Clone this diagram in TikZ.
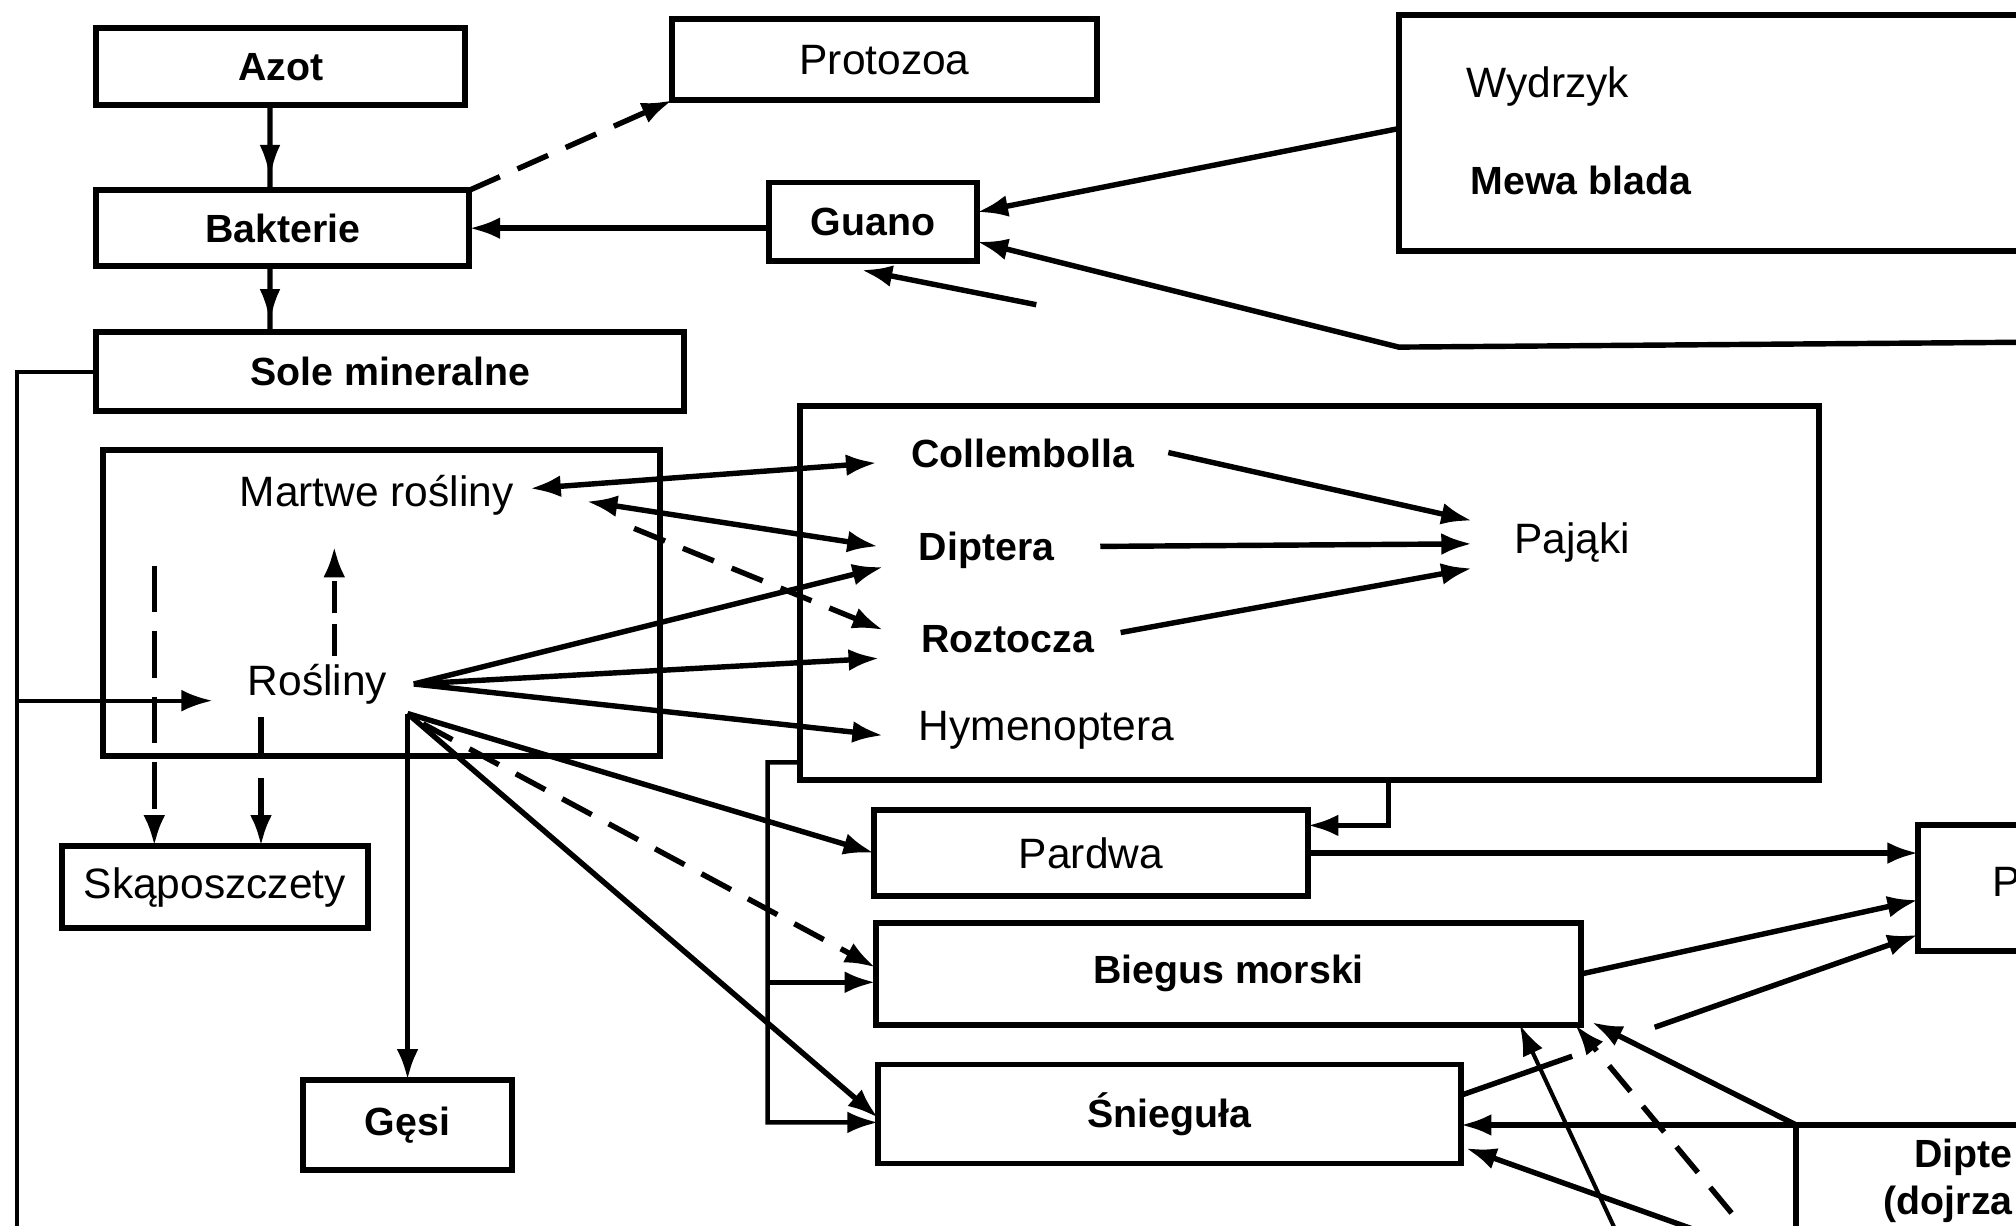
\documentclass[tikz,border=0pt]{standalone}
\usepackage{fontspec}
\setmainfont{Liberation Sans}
\usetikzlibrary{arrows.meta,decorations.markings}

\begin{document}
\begin{tikzpicture}[x=0.1mm,y=-0.1mm,
  box/.style={draw,line width=1.3pt,inner sep=0pt,outer sep=0pt},
  rg/.style={font=\fontsize{9.4}{11}\selectfont,inner sep=0pt},
  bd/.style={font=\fontsize{8.7}{10}\selectfont\bfseries,inner sep=0pt},
  link/.style={line width=1.2pt,-{Latex[length=2.4mm,width=1.7mm]}},
  both/.style={line width=1.2pt,{Latex[length=2.4mm,width=1.7mm]}-{Latex[length=2.4mm,width=1.7mm]}},
  plain/.style={line width=1.2pt},
  thinline/.style={line width=0.9pt},
  dsh/.style={dash pattern=on 2.6mm off 1.5mm},
  midarrow/.style={line width=1.2pt,postaction={decorate},
    decoration={markings,mark=at position #1 with {\arrow{Latex[length=2.6mm,width=1.6mm]}}}},
]
% page frame
\clip (0,0) rectangle (1568,953);
\fill[white] (0,0) rectangle (1568,953);

% ---- boxes ----
\node[box,bd,minimum width=28.7mm,minimum height=6.0mm] (azot) at (218.5,52) {Azot};
\node[box,rg,minimum width=33.0mm,minimum height=6.3mm] (proto) at (688,46.5) {Protozoa};
\node[box,bd,minimum width=29.0mm,minimum height=5.9mm] (bakt) at (220,177.5) {Bakterie};
\node[box,bd,minimum width=16.2mm,minimum height=6.1mm] (guano) at (679,172.5) {Guano};
\node[box,minimum width=53.2mm,minimum height=18.3mm] (ptaki) at (1354,103.5) {};
\node[rg,anchor=west] (wydrzyk) at (1140,67) {Wydrzyk};
\node[bd,anchor=west] (mewa) at (1143,140) {Mewa blada};
\node[box,bd,minimum width=45.7mm,minimum height=6.2mm] (sole) at (303.5,289) {Sole mineralne};

\node[box,minimum width=43.3mm,minimum height=23.8mm] (roslbox) at (296.5,469) {};
\node[rg] (martwe) at (293,385) {Martwe rośliny};
\node[rg] (rosl) at (247,532) {Rośliny};

\node[box,minimum width=79.3mm,minimum height=29.1mm] (midbox) at (1018.5,461.5) {};
\node[bd,anchor=west] (coll) at (708,353) {Collembolla};
\node[bd,anchor=west] (dipt) at (714,428) {Diptera};
\node[bd,anchor=west] (rozt) at (716,497) {Roztocza};
\node[rg,anchor=west] (hym) at (714,568) {Hymenoptera};
\node[rg,anchor=west] (paj) at (1177,422) {Pająki};

\node[box,rg,minimum width=23.8mm,minimum height=6.4mm] (skap) at (167,690) {Skąposzczety};
\node[box,bd,minimum width=16.3mm,minimum height=7.0mm] (gesi) at (317,875) {Gęsi};
\node[box,rg,minimum width=33.7mm,minimum height=6.7mm] (pardwa) at (848.5,663.5) {Pardwa};
\node[box,bd,minimum width=54.9mm,minimum height=7.9mm] (biegus) at (955.5,757.5) {Biegus morski};
\node[box,bd,minimum width=45.3mm,minimum height=7.7mm] (snieg) at (909.5,866.5) {Śnieguła};

\node[box,minimum width=13mm,minimum height=9.8mm] (pbox) at (1557,691) {};
\node[rg,anchor=west] (ptxt) at (1549,686) {P};
\node[box,minimum width=30.3mm,minimum height=17.5mm] (dipbox) at (1548.5,962.5) {};
\node[bd,anchor=east] (dip2) at (1566,900) {Dipte};
\node[bd,anchor=east] (dojr) at (1566,937) {(dojrza};

% ---- top part ----
\draw[midarrow=0.86] ([xshift=-0.85mm]azot.south) -- ([xshift=-1mm]bakt.north);
\draw[midarrow=0.86] ([xshift=-1mm]bakt.south) -- ([xshift=-9.35mm]sole.north);
\draw[link,dsh] (bakt.north east) -- (proto.south west);
\draw[link] (guano.west |- bakt.east) -- (bakt.east);
\draw[link] ([yshift=0.35mm]ptaki.west) -- ([yshift=0.75mm]guano.east);
\coordinate (rline) at (1600,266);
\coordinate (rbend) at (1088,270);
\draw[link] (rline) -- (rbend) -- ([yshift=-1.55mm]guano.east);
\coordinate (fa) at (806,237);
\coordinate (fb) at (670,210);
\draw[link] (fa) -- (fb);

% ---- mineral salts feed the plants ----
\coordinate (lc) at (13,289);
\coordinate (lb) at (13,975);
\coordinate (lbr) at (13,545);
\draw[thinline] (sole.west) -- (lc) -- (lb);
\draw[link,line width=0.9pt] (lbr) -- ([shift={(-27,13)}]rosl.west);

% ---- inside the plant box ----
\draw[link,dash pattern=on 2.5mm off 0.8mm] ([shift={(13,-22)}]rosl.center) -- ([shift={(-33,40)}]martwe.center);
\draw[link,dash pattern=on 3.6mm off 1.5mm] ([shift={(-127,-92)}]rosl.center) -- ([shift={(-47,0)}]skap.north);
\draw[link,dash pattern=on 3.2mm off 1.5mm on 20mm] ([shift={(-44,26)}]rosl.center) -- ([shift={(36,0)}]skap.north);

% ---- plants to invertebrates ----
\draw[both] ([shift={(12,-5)}]martwe.east) -- ([shift={(-26,7)}]coll.west);
\draw[both] ([shift={(56,5)}]martwe.east) -- ([shift={(-31,-3)}]dipt.west);
\draw[link,dsh] ([shift={(93,26)}]martwe.east) -- ([shift={(-29,-7)}]rozt.west);
\draw[link] ([shift={(20,0)}]rosl.east) -- ([shift={(-27,13)}]dipt.west);
\draw[link] ([shift={(20,0)}]rosl.east) -- ([shift={(-32,15)}]rozt.west);
\draw[link] ([shift={(20,0)}]rosl.east) -- ([shift={(-27,4)}]hym.west);

% ---- invertebrates to spiders ----
\draw[link] ([shift={(26,-1)}]coll.east) -- ([shift={(-32,-17)}]paj.west);
\draw[link] ([shift={(35,-3)}]dipt.east) -- ([shift={(-32,1)}]paj.west);
\draw[link] ([shift={(20,-5)}]rozt.east) -- ([shift={(-32,20)}]paj.west);

% ---- plants to birds ----
\coordinate (hub) at ([shift={(70,23)}]rosl.center);
\draw[link] (hub) -- (gesi.north);
\draw[link] (hub) -- (pardwa.west);
\draw[link,dsh] ([shift={(12,8)}]hub) -- ([shift={(0,-5)}]biegus.west);
\draw[link] (hub) -- ([shift={(0,3)}]snieg.west);

% ---- invertebrates to birds ----
\coordinate (brk) at (597,593);
\draw[link,line width=1pt] ([shift={(0,-14)}]midbox.south west) -- (brk) |- ([shift={(0,6.5)}]snieg.west);
\coordinate (bw) at ([shift={(0,6.5)}]biegus.west);
\draw[link] (bw -| brk) -- (bw);
\draw[link] ([shift={(61.5,0)}]midbox.south) |- ([shift={(0,-21.5)}]pardwa.east);

% ---- birds to the right-hand box ----
\draw[link] (pardwa.east) -- (pardwa.east -| pbox.west);
\draw[link] (biegus.east) -- ([shift={(0,9)}]pbox.west);
\draw[link,dash pattern=on 9.2mm off 6.8mm on 40mm] ([shift={(0,-14.5)}]snieg.east) -- ([shift={(0,36)}]pbox.west);

% ---- adult Diptera ----
\draw[link] (dipbox.north west) -- (dipbox.north west -| snieg.east);
\draw[link] (dipbox.north west) -- ([shift={(8,-2)}]biegus.south east);
\coordinate (t1) at (1265,975);
\coordinate (t2) at (1373,975);
\coordinate (t3) at (1370,975);
\draw[link,line width=0.9pt] (t1) -- ([shift={(-48,0)}]biegus.south east);
\draw[link,dsh] (t2) -- ([shift={(-5,0)}]biegus.south east);
\draw[link] (t3) -- ([shift={(4,-12)}]snieg.south east);
\end{tikzpicture}
\end{document}
